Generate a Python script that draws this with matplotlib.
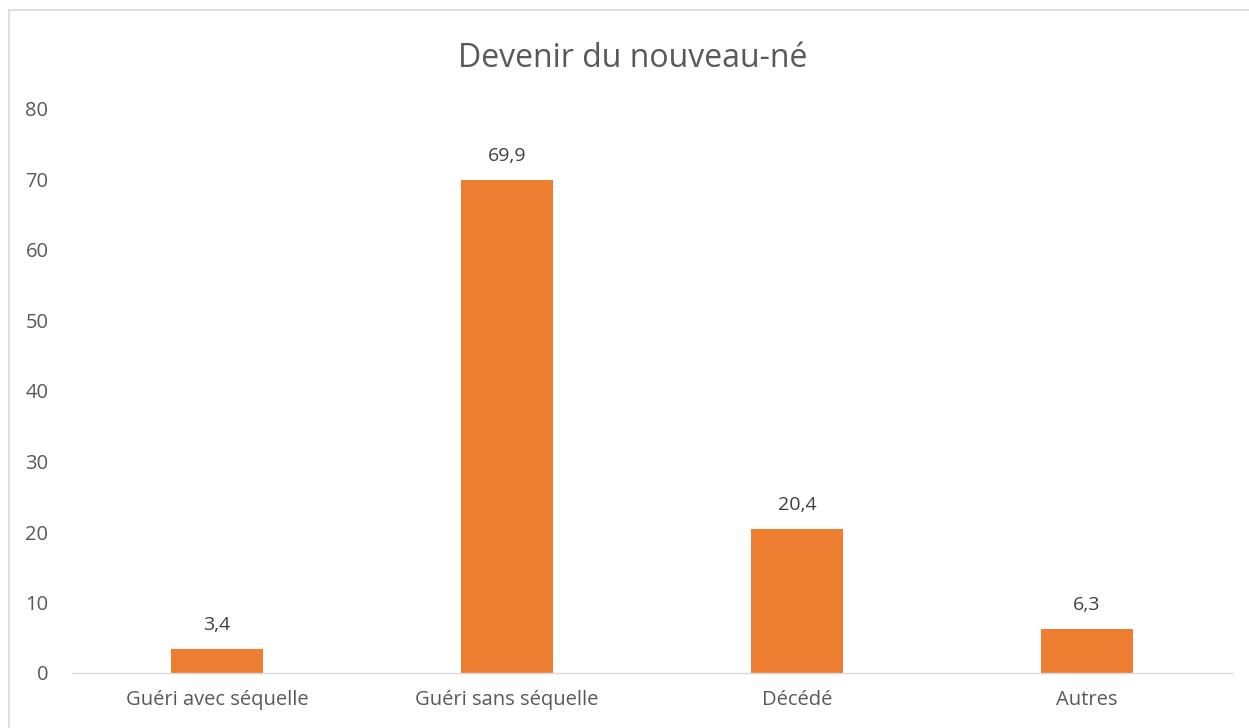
import matplotlib
matplotlib.use("Agg")
import matplotlib.pyplot as plt
from matplotlib.lines import Line2D

categories = ["Guéri avec séquelle", "Guéri sans séquelle", "Décédé", "Autres"]
values = [3.4, 69.9, 20.4, 6.3]
value_labels = ["3,4", "69,9", "20,4", "6,3"]
yticks = [0, 10, 20, 30, 40, 50, 60, 70, 80]

plt.rcParams['font.family'] = ['Open Sans', 'DejaVu Sans']
grey = "#595959"

W, H = 1249, 728
fig = plt.figure(figsize=(W / 100, H / 100), dpi=100)
ax = fig.add_axes([72 / W, 55 / H, 1160 / W, 564 / H])
x = list(range(len(categories)))
ax.bar(x, values, width=0.315, color="#ED7D31")
for xi, v, lab in zip(x, values, value_labels):
    ax.annotate(lab, (xi, v), xytext=(0, 13.5), textcoords="offset points",
                ha="center", va="baseline", fontsize=14, color="#404040")
ax.set_xlim(-0.5, len(categories) - 0.5)
ax.set_ylim(0, 80)
ax.set_yticks(yticks)
ax.set_yticklabels([str(t) for t in yticks])
ax.set_xticks(x)
ax.set_xticklabels(categories)
ax.tick_params(axis='both', length=0, labelsize=14.5, labelcolor=grey)
ax.tick_params(axis='y', pad=17)
ax.tick_params(axis='x', pad=12)
for s in ["top", "right", "left"]:
    ax.spines[s].set_visible(False)
ax.spines["bottom"].set_color("#D9D9D9")
ax.spines["bottom"].set_linewidth(1)
fig.text(633 / W, (H - 67) / H, "Devenir du nouveau-né", ha="center", va="baseline",
         fontsize=23, color=grey)
# chart-area border (cropped: only top and left edges visible)
fig.add_artist(Line2D([8.5 / W, 8.5 / W], [0, (H - 9.5) / H], transform=fig.transFigure,
                      color="#D9D9D9", linewidth=1.2))
fig.add_artist(Line2D([8.5 / W, 1], [(H - 9.5) / H, (H - 9.5) / H], transform=fig.transFigure,
                      color="#D9D9D9", linewidth=1.2))
fig.savefig("out.png", dpi=100)
